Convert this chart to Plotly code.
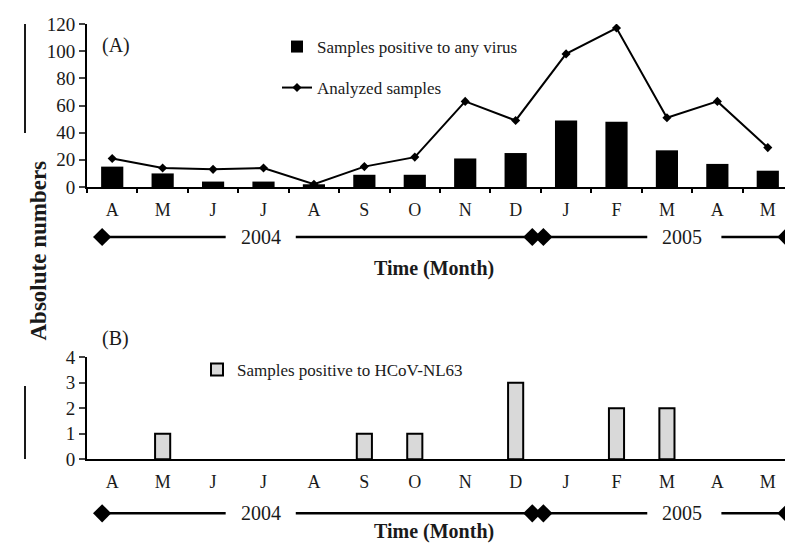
import plotly.graph_objects as go

months = ["A", "M", "J", "J", "A", "S", "O", "N", "D", "J", "F", "M", "A", "M"]
positive_any = [15, 10, 4, 4, 2, 9, 9, 21, 25, 49, 48, 27, 17, 12]
analyzed = [21, 14, 13, 14, 2, 15, 22, 63, 49, 98, 117, 51, 63, 29]
positive_nl63 = [0, 1, 0, 0, 0, 1, 1, 0, 3, 0, 2, 2, 0, 0]
years = ["2004", "2005"]

x = list(range(len(months)))
FONT = "Times New Roman, Liberation Serif, Tinos, serif"
TXT = "#1a1a1a"
OFF = 8  # page body margin
W, H = 793 - OFF, 554 - OFF


def py(px):
    return 1 - (px - OFF) / H


def pxx(px):
    return (px - OFF) / W


fig = go.Figure()

fig.add_trace(go.Bar(x=x, y=positive_any, width=0.44, marker=dict(color="black", line=dict(width=0)),
                     name="Samples positive to any virus", xaxis="x", yaxis="y", legend="legend"))
fig.add_trace(go.Scatter(x=x, y=analyzed, mode="lines+markers", name="Analyzed samples",
                         line=dict(color="black", width=2),
                         marker=dict(symbol="diamond", size=7, color="black", line=dict(width=0)),
                         xaxis="x", yaxis="y", legend="legend2"))
fig.add_trace(go.Bar(x=x, y=[v if v > 0 else None for v in positive_nl63], width=0.3,
                     marker=dict(color="#d9d9d9", line=dict(color="black", width=2)),
                     name="Samples positive to HCoV-NL63", xaxis="x2", yaxis="y2", legend="legend3"))

# year bars (category units)
segments = [((-0.2, 2.25), (14, 0)), ((3.64, 8.33), (0, 14)), ((8.55, 10.61), (14, 0)), ((12.08, 13.37), (0, 14))]
year_pos = [2.95, 11.3]
for xa, ya in (("x", "y3"), ("x2", "y4")):
    for (x0, x1), sizes in segments:
        fig.add_trace(go.Scatter(x=[x0, x1], y=[0.5, 0.5], mode="lines+markers", showlegend=False,
                                 line=dict(color="black", width=2.5), cliponaxis=False,
                                 marker=dict(symbol="diamond", size=list(sizes), color="black",
                                             opacity=1, line=dict(width=0)),
                                 xaxis=xa, yaxis=ya, hoverinfo="skip"))
    for yr, xp in zip(years, year_pos):
        fig.add_annotation(x=xp, y=0.5, xref=xa, yref=ya, text=yr, showarrow=False,
                           font=dict(family=FONT, size=20, color=TXT))

xdom = [pxx(87), 1.0]
common_x = dict(range=[-0.5, 13.5], tickvals=x, ticktext=months, showline=True, linecolor="black", linewidth=2,
                showgrid=False, zeroline=False, ticks="", ticklabelstandoff=5, automargin=False,
                tickfont=dict(family=FONT, size=18, color=TXT), domain=xdom)
common_y = dict(showline=True, linecolor="black", linewidth=2, ticks="outside", ticklen=6, tickwidth=2,
                showgrid=False, zeroline=False, automargin=False, tickfont=dict(family=FONT, size=19, color=TXT))
fig.update_layout(
    xaxis=dict(**common_x, anchor="y",
               minor=dict(tickvals=[i + 0.5 for i in range(-1, 14)], ticks="outside", ticklen=4,
                          tickwidth=2, tickcolor="black")),
    xaxis2=dict(**common_x, anchor="y2"),
    yaxis=dict(**common_y, domain=[py(187), py(24)], range=[0, 120], dtick=20, anchor="x"),
    yaxis2=dict(**common_y, domain=[py(459.3), py(357.3)], range=[0, 4], dtick=1, anchor="x2"),
    yaxis3=dict(domain=[py(247), py(227)], range=[0, 1], visible=False, anchor="x", automargin=False),
    yaxis4=dict(domain=[py(523.3), py(503.3)], range=[0, 1], visible=False, anchor="x2", automargin=False),
    width=W, height=H, margin=dict(l=0, r=0, t=0, b=0, autoexpand=False),
    plot_bgcolor="white", paper_bgcolor="white",
    font=dict(family=FONT, color=TXT),
    legend=dict(x=pxx(277), y=py(47), yanchor="middle", xanchor="left", bgcolor="rgba(0,0,0,0)",
                font=dict(family=FONT, size=17, color=TXT)),
    legend2=dict(x=pxx(277), y=py(88), yanchor="middle", xanchor="left", bgcolor="rgba(0,0,0,0)",
                 font=dict(family=FONT, size=17, color=TXT)),
    legend3=dict(x=pxx(197), y=py(370), yanchor="middle", xanchor="left", bgcolor="rgba(0,0,0,0)",
                 font=dict(family=FONT, size=17, color=TXT)),
    showlegend=True,
)

# panel labels and titles
fig.add_annotation(x=pxx(100), y=py(32), xref="paper", yref="paper", text="(A)", showarrow=False,
                   xanchor="left", font=dict(family=FONT, size=20, color=TXT))
fig.add_annotation(x=pxx(100), y=py(338), xref="paper", yref="paper", text="(B)", showarrow=False,
                   xanchor="left", font=dict(family=FONT, size=20, color=TXT))
for yy in (268, 545):
    fig.add_annotation(x=pxx(434), y=py(yy), xref="paper", yref="paper", text="<b>Time (Month)</b>",
                       showarrow=False, font=dict(family=FONT, size=20, color=TXT))
fig.add_annotation(x=pxx(24), y=py(251), xref="paper", yref="paper", text="<b>Absolute numbers</b>",
                   textangle=-90, showarrow=False, font=dict(family=FONT, size=23, color=TXT))
fig.add_shape(type="line", xref="paper", yref="paper", x0=pxx(25), x1=pxx(25), y0=py(24), y1=py(133),
              line=dict(color=TXT, width=2))
fig.add_shape(type="line", xref="paper", yref="paper", x0=pxx(25), x1=pxx(25), y0=py(386), y1=py(459),
              line=dict(color=TXT, width=2))

fig.write_html("out.html")
